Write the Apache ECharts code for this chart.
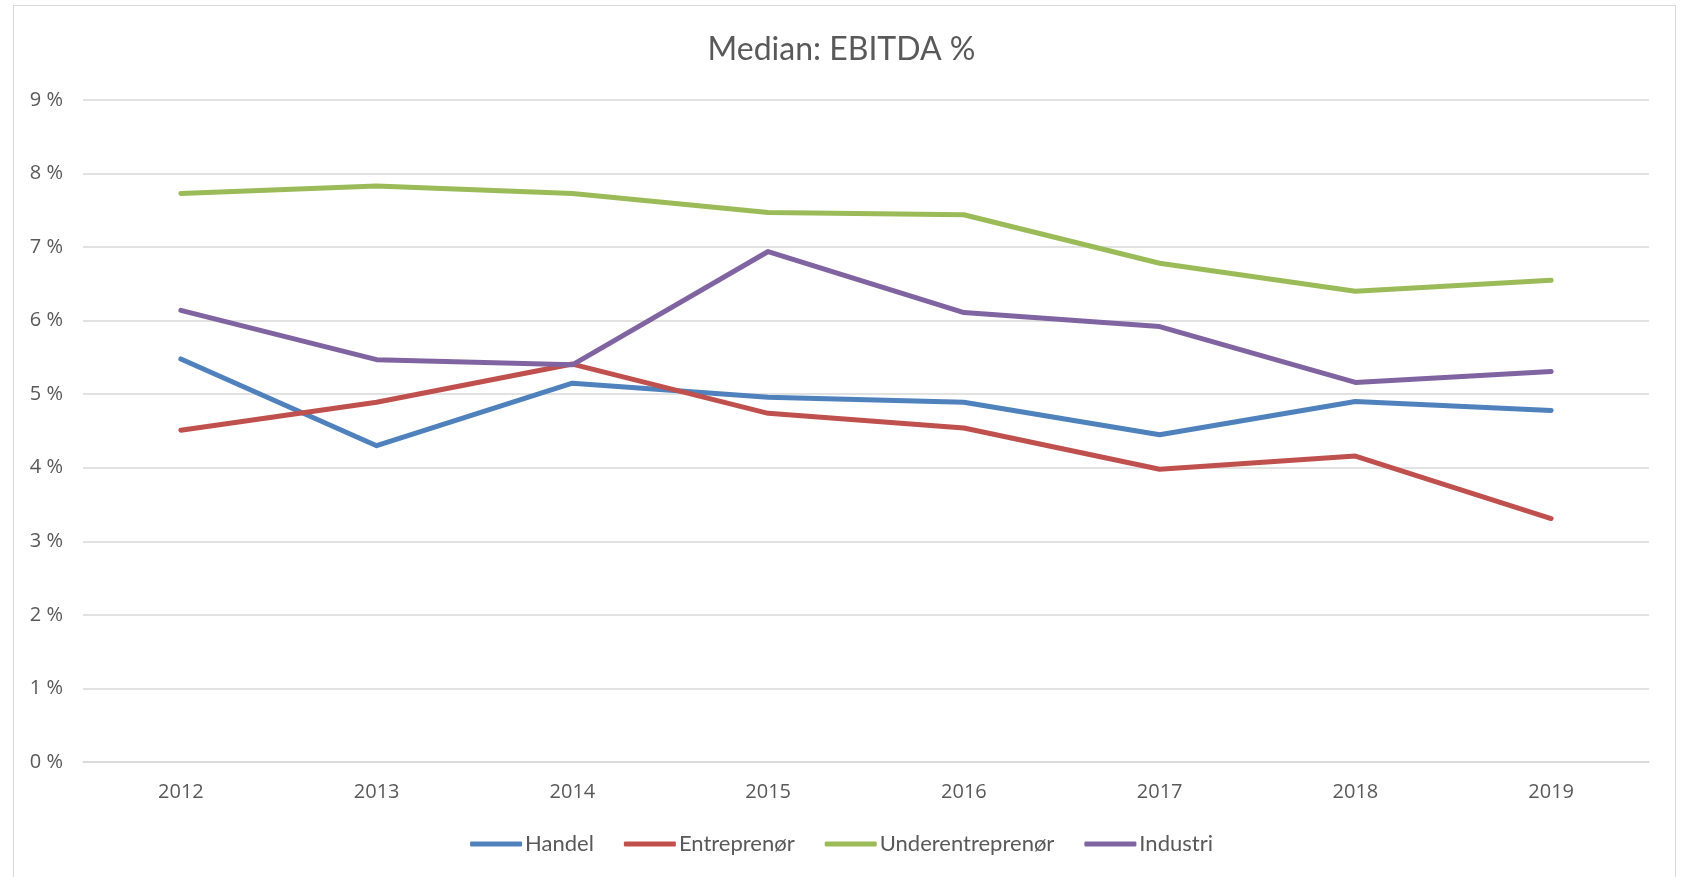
<!DOCTYPE html>
<html>
<head>
<meta charset="utf-8">
<script src="https://cdn.jsdelivr.net/npm/echarts@6/dist/echarts.min.js"></script>
<style>
  html, body { margin: 0; padding: 0; background: #fff; overflow: hidden; }
  #frame { position: absolute; left: 13px; top: 5px; width: 1661px; height: 900px; border: 1px solid #d9d9d9; }
  #chart { position: absolute; left: 0; top: 0; width: 1683px; height: 877px; }
</style>
</head>
<body>
<div id="frame"></div>
<div id="chart"></div>
<script>
// years on the x axis
const years = ['2012', '2013', '2014', '2015', '2016', '2017', '2018', '2019'];

// median EBITDA in percent
const handel = [5.48, 4.30, 5.15, 4.96, 4.89, 4.45, 4.90, 4.78];
const entreprenor = [4.51, 4.89, 5.41, 4.74, 4.54, 3.98, 4.16, 3.31];
const underentreprenor = [7.73, 7.83, 7.73, 7.47, 7.44, 6.78, 6.40, 6.55];
const industri = [6.14, 5.47, 5.40, 6.94, 6.11, 5.92, 5.16, 5.31];

const chart = echarts.init(document.getElementById('chart'));

function line(name, data, color) {
  return {
    name,
    type: 'line',
    data,
    symbol: 'none',
    lineStyle: { width: 5, color, cap: 'round', join: 'round' },
    itemStyle: { color },
  };
}

chart.setOption({
  animation: false,
  title: {
    text: 'Median: EBITDA %',
    left: 'center',
    top: 29,
    textStyle: { fontFamily: 'Lato', fontSize: 32, fontWeight: 'normal', color: '#595959' },
  },
  grid: { left: 83, right: 34, top: 100, bottom: 115, containLabel: false },
  xAxis: {
    type: 'category',
    data: years,
    boundaryGap: true,
    axisLine: { lineStyle: { color: '#d9d9d9', width: 1.5 } },
    axisTick: { show: false },
    axisLabel: { fontFamily: 'Open Sans', fontSize: 20, color: '#595959', margin: 20 },
  },
  yAxis: {
    type: 'value',
    min: 0,
    max: 9,
    interval: 1,
    axisLine: { show: false },
    axisTick: { show: false },
    splitLine: { lineStyle: { color: '#d9d9d9', width: 1.5 } },
    axisLabel: { fontFamily: 'Open Sans', fontSize: 20, color: '#595959', margin: 20, formatter: '{value} %' },
  },
  legend: {
    bottom: 17,
    left: 'center',
    itemWidth: 52,
    itemHeight: 5,
    itemGap: 30,
    icon: 'roundRect',
    textStyle: { fontFamily: 'Lato', fontSize: 22, color: '#595959', padding: [0, 0, 0, -2] },
  },
  series: [
    line('Handel', handel, '#4f81bd'),
    line('Entreprenør', entreprenor, '#c0504d'),
    line('Underentreprenør', underentreprenor, '#9bbb59'),
    line('Industri', industri, '#8064a2'),
  ],
});
</script>
</body>
</html>
